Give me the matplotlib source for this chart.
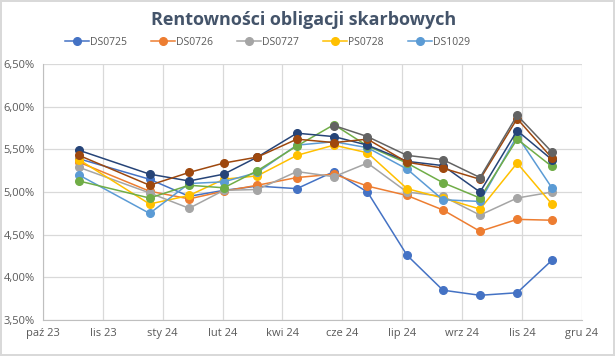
import matplotlib.pyplot as plt
import matplotlib.dates as mdates
import numpy as np
import pandas as pd
from matplotlib.ticker import FuncFormatter, MultipleLocator

dates = pd.to_datetime([
    "2023-10-31", "2023-12-29", "2024-01-31", "2024-02-29", "2024-03-28",
    "2024-04-30", "2024-05-31", "2024-06-28", "2024-07-31", "2024-08-30",
    "2024-09-30", "2024-10-31", "2024-11-29",
])

ds0725 = [5.39, 5.15, 4.95, 5.02, 5.07, 5.04, 5.24, 5.00, 4.26, 3.85, 3.79, 3.82, 4.20]
ds0726 = [5.35, 5.01, 4.92, 5.01, 5.08, 5.17, 5.21, 5.07, 4.96, 4.79, 4.54, 4.68, 4.67]
ds0727 = [5.29, 4.99, 4.81, 5.02, 5.03, 5.24, 5.18, 5.34, 5.00, 4.95, 4.73, 4.93, 5.00]
ps0728 = [5.38, 4.86, 4.96, 5.15, 5.19, 5.43, 5.55, 5.46, 5.04, 4.93, 4.80, 5.34, 4.86]
ds1029 = [5.20, 4.75, 5.10, 5.12, 5.23, 5.55, 5.59, 5.52, 5.27, 4.91, 4.89, 5.66, 5.05]
green = [5.13, 4.93, 5.08, 5.05, 5.25, 5.54, 5.79, 5.54, 5.34, 5.11, 4.93, 5.62, 5.30]
navy = [5.49, 5.21, 5.13, 5.21, 5.41, 5.69, 5.65, 5.55, 5.36, 5.31, 5.00, 5.72, 5.38]
brown = [5.43, 5.08, 5.23, 5.34, 5.41, 5.62, 5.58, 5.62, 5.35, 5.28, 5.15, 5.86, 5.40]
dgray = [np.nan] * 6 + [5.78, 5.65, 5.43, 5.38, 5.17, 5.90, 5.47]

series = [
    ("DS0725", ds0725, "#4472C4"),
    ("DS0726", ds0726, "#ED7D31"),
    ("DS0727", ds0727, "#A5A5A5"),
    ("PS0728", ps0728, "#FFC000"),
    ("DS1029", ds1029, "#5B9BD5"),
    ("", green, "#70AD47"),
    ("", navy, "#264478"),
    ("", brown, "#9E480E"),
    ("", dgray, "#636363"),
]

months_pl = ["sty", "lut", "mar", "kwi", "maj", "cze", "lip", "sie", "wrz", "paź", "lis", "gru"]

plt.rcParams["font.family"] = ["Open Sans", "DejaVu Sans"]

fig = plt.figure(figsize=(6.15, 3.56), dpi=100)
fig.patch.set_edgecolor("#D9D9D9")
fig.patch.set_linewidth(1.5)
ax = fig.add_axes([0.070, 0.101, 0.876, 0.719])

handles = []
for name, vals, col in series:
    (ln,) = ax.plot(dates, np.array(vals) / 100, "-o", color=col, linewidth=1.1,
                    markersize=5.5, label=name)
    if name:
        handles.append(ln)

x0 = mdates.date2num(pd.Timestamp("2023-10-01"))
ax.set_xlim(x0, x0 + 450)
ax.set_xticks([x0 + 50 * i for i in range(10)])
ax.xaxis.set_major_formatter(FuncFormatter(
    lambda v, p: "%s %s" % (months_pl[mdates.num2date(v).month - 1],
                            mdates.num2date(v).strftime("%y"))))
ax.set_ylim(0.035, 0.065)
ax.yaxis.set_major_locator(MultipleLocator(0.005))
ax.yaxis.set_major_formatter(FuncFormatter(lambda v, p: ("%.2f%%" % (v * 100)).replace(".", ",")))

ax.grid(True, color="#D9D9D9", linewidth=0.9)
ax.set_axisbelow(True)
for s in ["top", "right"]:
    ax.spines[s].set_visible(False)
for s in ["left", "bottom"]:
    ax.spines[s].set_color("#BFBFBF")
ax.tick_params(length=0, labelsize=8, colors="#595959", pad=6)

fig.text(0.494, 0.945, "Rentowności obligacji skarbowych", ha="center", va="center",
         fontsize=13, fontweight="bold", color="#44546A")
fig.legend(handles=handles, loc="center", bbox_to_anchor=(0.435, 0.882), ncol=5,
           frameon=False, fontsize=7.5, handlelength=2.3, columnspacing=2.3,
           handletextpad=0.1, labelcolor="#595959")

fig.savefig("out.png", dpi=100)
